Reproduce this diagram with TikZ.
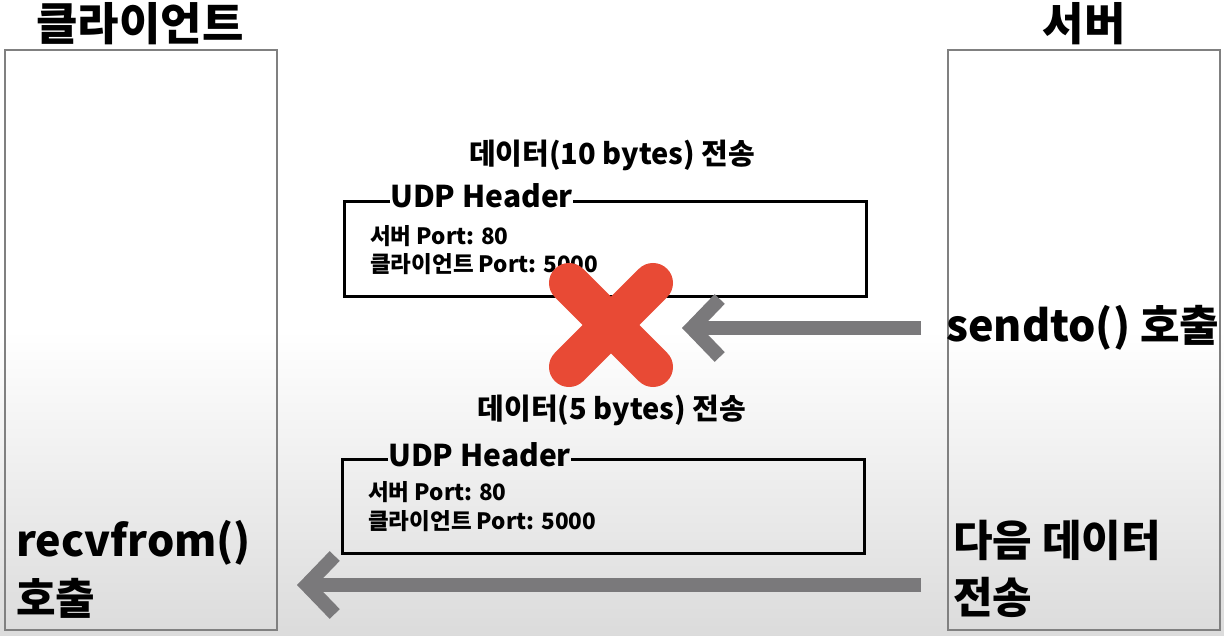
\documentclass[tikz,border=0pt]{standalone}
\usepackage{fontspec}
\setmainfont{Noto Sans CJK KR}
\usetikzlibrary{arrows.meta,calc}
\definecolor{xred}{HTML}{E84A35}
\definecolor{arrgray}{HTML}{7A797B}
\definecolor{colframe}{HTML}{808080}
\tikzset{
  colbox/.style={draw=colframe, line width=1.5pt, minimum width=272pt, minimum height=580pt, inner sep=0pt},
  udpbox/.style={minimum width=521pt, minimum height=94pt, inner sep=0pt},
  udpline/.style={line width=3pt, line join=miter},
  title/.style={font=\fontsize{45}{50}\selectfont\bfseries, inner sep=0pt},
  big/.style={font=\fontsize{43}{48}\selectfont\bfseries, inner sep=0pt, anchor=west},
  caption/.style={font=\fontsize{29}{33}\selectfont\bfseries, inner sep=0pt},
  hdr/.style={font=\fontsize{30}{34}\selectfont\bfseries, inner sep=0pt, anchor=west},
  field/.style={font=\fontsize{22.5}{26}\selectfont\bfseries, inner sep=0pt, anchor=west},
  flow/.style={draw=arrgray, line width=14pt, -{Straight Barb[length=28pt,width=58pt]}},
  cross/.style={draw=xred, line width=40pt, line cap=round}
}
\begin{document}
\begin{tikzpicture}[x=1pt,y=-1pt]
\useasboundingbox (0,0) rectangle (1224,636);
\fill[white] (0,0) rectangle (1224,330);
\shade[top color=white, bottom color=black!14] (0,330) rectangle (1224,636);

% columns
\node[colbox] (client) at (141,340) {};
\node[colbox] (server) at (1084,340) {};
\node[title] (clientT) at (140,24) {클라이언트};
\node[title] (serverT) at (1084,24) {서버};

% first packet
\node[caption] (cap1) at (612,155) {데이터(10 bytes) 전송};
\node[udpbox] (box1) at (605.5,249) {};
\node[hdr] (hdr1) at (390,196) {UDP Header};
\draw[udpline] (hdr1.west |- box1.north) -- (box1.north west) -- (box1.south west) -- (box1.south east) -- (box1.north east) -- (hdr1.east |- box1.north);
\node[field] (srv1) at (370,236) {서버 Port: 80};
\node[field] (cli1) at (370,264) {클라이언트 Port: 5000};

% second packet
\node[caption] (cap2) at (612,410) {데이터(5 bytes) 전송};
\node[udpbox] (box2) at (603.5,506.5) {};
\node[hdr] (hdr2) at (388,455) {UDP Header};
\draw[udpline] (hdr2.west |- box2.north) -- (box2.north west) -- (box2.south west) -- (box2.south east) -- (box2.north east) -- (hdr2.east |- box2.north);
\node[field] (srv2) at (368,492) {서버 Port: 80};
\node[field] (cli2) at (368,521) {클라이언트 Port: 5000};

% side labels
\node[big] (sendto) at (946,328) {sendto() 호출};
\node[big] (recv1) at (16,543) {recvfrom()};
\node[big] (recv2) at (16,598) {호출};
\node[big] (next1) at (953,540) {다음 데이터};
\node[big] (next2) at (953,597) {전송};

% arrows
\coordinate (a1s) at (921,328);
\coordinate (a1e) at (682,328);
\coordinate (a2s) at (921,585);
\coordinate (a2e) at (297,585);
\draw[flow] (a1s) -- (a1e);
\draw[flow] (a2s) -- (a2e);

% red cross
\coordinate (xc) at (611,325);
\draw[cross] ($(xc)+(-42,-42)$) -- ($(xc)+(42,42)$);
\draw[cross] ($(xc)+(42,-42)$) -- ($(xc)+(-42,42)$);
\end{tikzpicture}
\end{document}
